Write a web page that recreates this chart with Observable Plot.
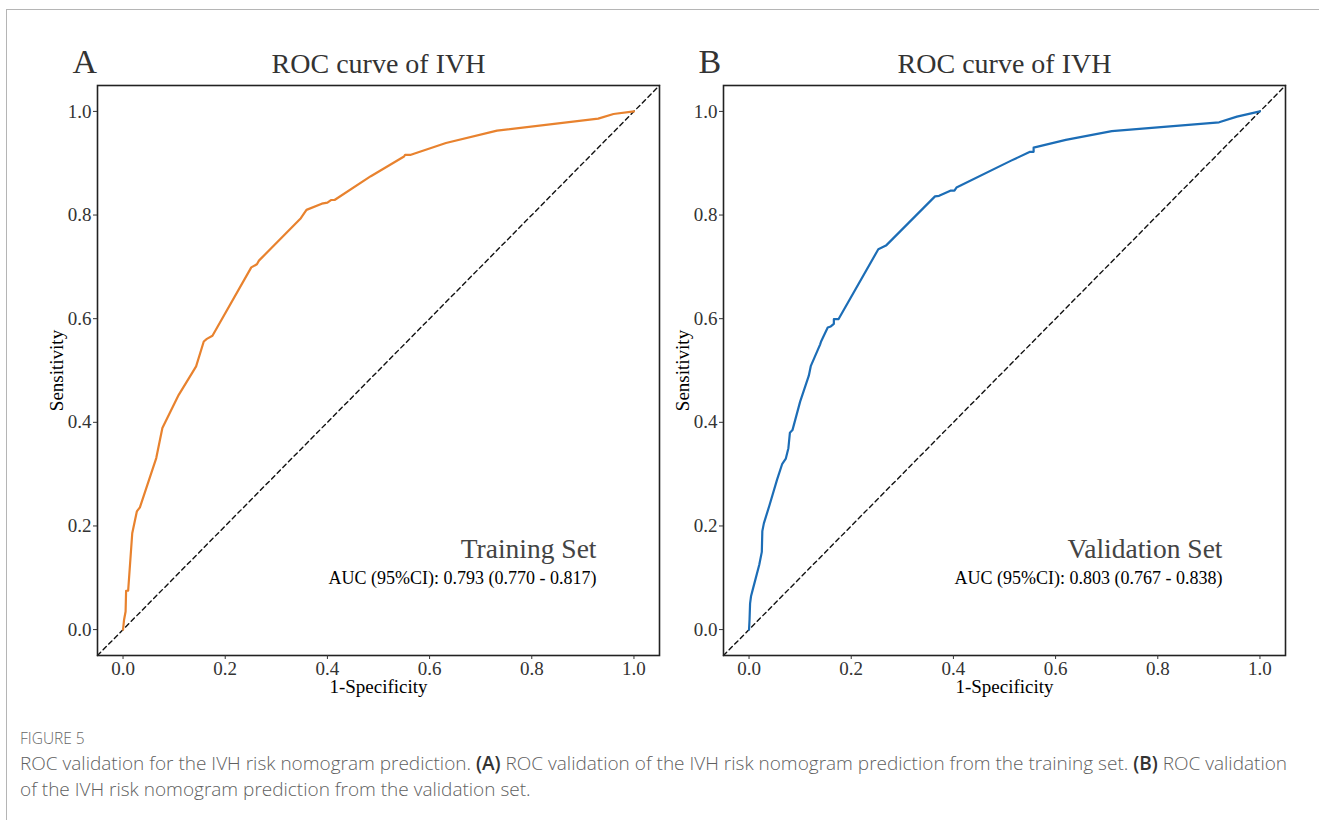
<!DOCTYPE html>
<html><head><meta charset="utf-8">
<script src="https://cdn.jsdelivr.net/npm/d3@7"></script>
<script src="https://cdn.jsdelivr.net/npm/@observablehq/plot@0.6"></script>
<style>
body{margin:0;background:#fff;}
#wrap{position:relative;width:1319px;height:820px;overflow:hidden;background:#fff;}
.panel{position:absolute;top:0;}
.hline{position:absolute;left:6px;top:9px;width:1313px;height:0;border-top:1.5px solid #b5b5b5;}
.vline{position:absolute;left:6px;top:9px;width:0;height:811px;border-left:1.5px solid #b5b5b5;}
.cap{position:absolute;left:20px;font-family:"Open Sans",sans-serif;color:#5f5f5f;white-space:nowrap;line-height:1;font-weight:300;}
.cap b{color:#333;font-weight:600;}
</style></head><body>
<div id="wrap">
  <div class="hline"></div><div class="vline"></div>
  <div id="pA" class="panel" style="left:0px"></div>
  <div id="pB" class="panel" style="left:626px"></div>
  <div class="cap" id="figlab" style="top:731px;font-size:15.5px;color:#666;">FIGURE 5</div>
  <div class="cap" style="top:754px;font-size:19px;">ROC validation for the IVH risk nomogram prediction. <b>(A)</b> ROC validation of the IVH risk nomogram prediction from the training set. <b>(B)</b> ROC validation</div>
  <div class="cap" style="top:780px;font-size:19px;">of the IVH risk nomogram prediction from the validation set.</div>
</div>
<script>
// ---- data ----
const trainFPR = [0, 0.002, 0.005, 0.006, 0.010, 0.018, 0.027, 0.033, 0.065, 0.077, 0.109, 0.135, 0.143, 0.158, 0.164, 0.175, 0.251, 0.262, 0.266, 0.348, 0.359, 0.389, 0.400, 0.407, 0.414, 0.485, 0.550, 0.552, 0.562, 0.632, 0.732, 0.930, 0.960, 1.0];
const trainTPR = [0, 0.019, 0.035, 0.075, 0.075, 0.186, 0.228, 0.236, 0.331, 0.389, 0.453, 0.495, 0.508, 0.556, 0.561, 0.567, 0.699, 0.705, 0.712, 0.794, 0.810, 0.822, 0.824, 0.829, 0.829, 0.875, 0.913, 0.916, 0.916, 0.939, 0.963, 0.986, 0.995, 1.0];
const valFPR = [0, 0.001, 0.002, 0.004, 0.008, 0.012, 0.020, 0.025, 0.026, 0.029, 0.040, 0.055, 0.065, 0.072, 0.077, 0.080, 0.085, 0.100, 0.117, 0.121, 0.139, 0.141, 0.154, 0.160, 0.166, 0.166, 0.175, 0.253, 0.268, 0.364, 0.372, 0.394, 0.402, 0.406, 0.513, 0.550, 0.557, 0.557, 0.620, 0.710, 0.920, 0.955, 1.0];
const valTPR = [0, 0.02, 0.05, 0.065, 0.08, 0.095, 0.125, 0.15, 0.19, 0.205, 0.24, 0.29, 0.32, 0.33, 0.35, 0.38, 0.385, 0.44, 0.49, 0.509, 0.550, 0.556, 0.583, 0.585, 0.590, 0.599, 0.599, 0.734, 0.741, 0.836, 0.837, 0.847, 0.847, 0.853, 0.905, 0.922, 0.922, 0.93, 0.945, 0.962, 0.979, 0.99, 1.0];
const diagX = [-0.05, 1.05];
const axisTicks = [0, 0.2, 0.4, 0.6, 0.8, 1.0];
const panelLetters = ["A", "B"];
const panelTitle = "ROC curve of IVH";
const setNames = ["Training Set", "Validation Set"];
const aucTexts = ["AUC (95%CI): 0.793 (0.770 - 0.817)", "AUC (95%CI): 0.803 (0.767 - 0.838)"];
const xLabel = "1-Specificity";
const yLabel = "Sensitivity";
const colors = ["#E8822E", "#1C6DB6"];

const serif = "'Liberation Serif', 'Times New Roman', serif";

function panel(fpr, tpr, i) {
  const data = fpr.map((f, k) => ({x: f, y: tpr[k]}));
  const diag = diagX.map(v => ({x: v, y: v}));
  return Plot.plot({
    width: 664, height: 700,
    marginLeft: 97, marginRight: 5, marginTop: 85, marginBottom: 45,
    style: {fontFamily: serif, fontSize: "19px", background: "transparent", overflow: "visible"},
    x: {domain: [-0.05, 1.05]},
    y: {domain: [-0.05, 1.05]},
    marks: [
      Plot.line(diag, {x: "x", y: "y", stroke: "#111", strokeWidth: 1.4, strokeDasharray: "4.5,3.5"}),
      Plot.line(data, {x: "x", y: "y", stroke: colors[i], strokeWidth: 2.2, strokeLinejoin: "round"}),
      Plot.frame({stroke: "#222", strokeWidth: 1.6}),
      Plot.axisX({ticks: axisTicks, tickFormat: d3.format(".1f"), tickSize: 4, tickPadding: 2, label: null, color: "#333", fontSize: 19}),
      Plot.axisY({ticks: axisTicks, tickFormat: d3.format(".1f"), tickSize: 4, tickPadding: 2, label: null, color: "#333", fontSize: 19}),
      Plot.text([yLabel], {frameAnchor: "left", dx: -41, rotate: -90, text: d => d, fontSize: 19, fill: "#000", textAnchor: "middle", lineAnchor: "middle"}),
      Plot.text([xLabel], {frameAnchor: "bottom", dy: 31, text: d => d, fontSize: 19, fill: "#000", lineAnchor: "middle"}),
      Plot.text([panelTitle], {frameAnchor: "top", dy: -13, text: d => d, fontSize: 28, fill: "#333", lineAnchor: "bottom"}),
      Plot.text([panelLetters[i]], {frameAnchor: "top-left", dx: -25, dy: -13, text: d => d, fontSize: 34, fill: "#333", textAnchor: "start", lineAnchor: "bottom"}),
      Plot.text([setNames[i]], {frameAnchor: "bottom-right", dx: -63, dy: -98, text: d => d, fontSize: 27.5, fill: "#444", textAnchor: "end", lineAnchor: "bottom"}),
      Plot.text([aucTexts[i]], {frameAnchor: "bottom-right", dx: -63, dy: -72, text: d => d, fontSize: 18, fill: "#000", textAnchor: "end", lineAnchor: "bottom"})
    ]
  });
}

document.getElementById("pA").appendChild(panel(trainFPR, trainTPR, 0));
document.getElementById("pB").appendChild(panel(valFPR, valTPR, 1));
</script>
</body></html>
